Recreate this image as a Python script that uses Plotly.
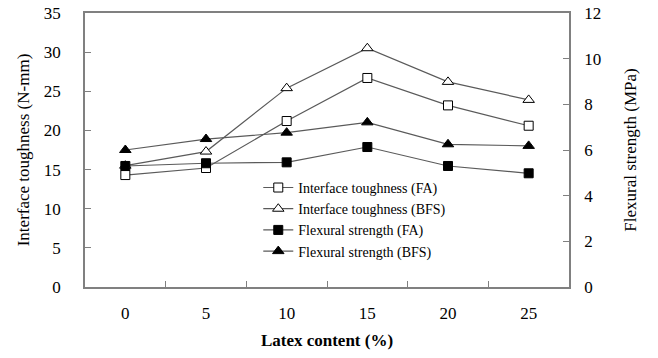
import plotly.graph_objects as go

latex = ["0", "5", "10", "15", "20", "25"]
tough_fa = [14.3, 15.2, 21.2, 26.7, 23.2, 20.6]
tough_bfs = [15.5, 17.3, 25.4, 30.5, 26.2, 23.9]
flex_fa = [5.3, 5.42, 5.46, 6.13, 5.3, 4.98]
flex_bfs = [6.0, 6.48, 6.76, 7.21, 6.25, 6.18]

FONT = "Liberation Serif"
LINE = "#5a5a5a"
AX = "#808080"

fig = go.Figure()

def add(name, y, symbol, fill, axis, size):
    fig.add_trace(go.Scatter(
        x=latex, y=y, name=name, mode="lines+markers",
        line=dict(color=LINE, width=1.2),
        marker=dict(symbol=symbol, size=size, color=fill,
                    line=dict(color="black", width=1)),
        yaxis=axis,
    ))

add("Interface toughness (FA)", tough_fa, "square", "white", "y", 9)
add("Interface toughness (BFS)", tough_bfs, "triangle-up", "white", "y", 10)
add("Flexural strength (FA)", flex_fa, "square", "black", "y2", 9)
add("Flexural strength (BFS)", flex_bfs, "triangle-up", "black", "y2", 10)

fig.update_layout(
    width=658, height=358,
    margin=dict(l=85, r=89, t=13, b=71, autoexpand=False),
    paper_bgcolor="white", plot_bgcolor="white",
    font=dict(family=FONT, color="black", size=17),
    showlegend=True,
    legend=dict(x=0.358, y=0.42, xanchor="left", yanchor="top",
                bgcolor="rgba(0,0,0,0)", font=dict(size=14, family=FONT),
                tracegroupgap=0, itemwidth=30),
    xaxis=dict(
        type="category", range=[-0.5, 5.5], tickson="boundaries",
        ticks="inside", ticklen=6, tickcolor=AX, tickwidth=1,
        showline=True, linecolor=AX, linewidth=1.5, mirror=True,
        showgrid=False, zeroline=False, automargin=False,
        ticklabelstandoff=10,
        title=dict(text="<b>Latex content (%)</b>", font=dict(size=17), standoff=12),
    ),
    yaxis=dict(
        range=[0, 35], dtick=5, ticks="inside", ticklen=6, tickcolor=AX,
        showline=True, linecolor=AX, linewidth=1.5, automargin=False,
        showgrid=False, zeroline=False, ticklabelstandoff=19,
        ticklabeloverflow="allow",
        title=dict(text="Interface toughness (N-mm)", font=dict(size=17), standoff=10),
    ),
    yaxis2=dict(
        range=[0, 12], dtick=2, overlaying="y", side="right",
        ticks="inside", ticklen=6, tickcolor=AX, automargin=False,
        showline=True, linecolor=AX, linewidth=1.5,
        showgrid=False, zeroline=False, ticklabelstandoff=10,
        ticklabeloverflow="allow",
        title=dict(text="Flexural strength (MPa)", font=dict(size=17), standoff=24),
    ),
)

fig.write_html("out.html", config={"displayModeBar": False},
               post_script="document.body.style.margin='0';")
